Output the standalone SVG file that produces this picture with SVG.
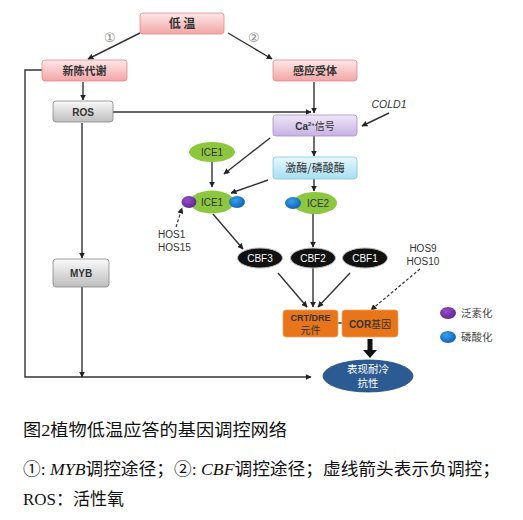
<svg xmlns="http://www.w3.org/2000/svg" width="523" height="520" viewBox="0 0 523 520">
<style>
.ln{fill:none;stroke:#333;stroke-width:1.4}
.ds{fill:none;stroke:#333;stroke-width:1.2;stroke-dasharray:3,2}
.cn{font-family:"Noto Sans CJK SC","Liberation Sans",sans-serif;font-weight:bold;font-size:11px;fill:#333;text-anchor:middle}
.cr{font-family:"Noto Sans CJK SC","Liberation Sans",sans-serif;font-size:10.5px;text-anchor:middle}
.sb{font-family:"Liberation Sans","Noto Sans CJK SC",sans-serif;font-weight:bold;font-size:10px;fill:#333;text-anchor:middle}
.sm{font-family:"Liberation Sans",sans-serif;font-size:10px;fill:#333}
.wt{font-family:"Liberation Sans",sans-serif;font-size:10px;fill:#fff;text-anchor:middle}
.lg{font-family:"Noto Sans CJK SC",sans-serif;font-size:10.5px;fill:#444}
.cap{font-family:"Liberation Serif","Noto Sans CJK SC",serif;font-size:17px;fill:#111}
</style>
<defs>
<linearGradient id="gPink" x1="0" y1="0" x2="0" y2="1"><stop offset="0" stop-color="#fde8e8"/><stop offset="1" stop-color="#f3a5a5"/></linearGradient>
<linearGradient id="gGray" x1="0" y1="0" x2="0" y2="1"><stop offset="0" stop-color="#fafafa"/><stop offset="1" stop-color="#bdbdbd"/></linearGradient>
<linearGradient id="gLav" x1="0" y1="0" x2="0" y2="1"><stop offset="0" stop-color="#efe6f8"/><stop offset="1" stop-color="#c6b2e2"/></linearGradient>
<linearGradient id="gCyan" x1="0" y1="0" x2="0" y2="1"><stop offset="0" stop-color="#e8f8fd"/><stop offset="1" stop-color="#a6dff0"/></linearGradient>
<radialGradient id="gBlue" cx="0.4" cy="0.35" r="0.7"><stop offset="0" stop-color="#3aa0ee"/><stop offset="1" stop-color="#0b5fae"/></radialGradient>
<radialGradient id="gPur" cx="0.4" cy="0.35" r="0.7"><stop offset="0" stop-color="#9350c8"/><stop offset="1" stop-color="#5e2490"/></radialGradient>
<marker id="ah" viewBox="0 0 10 10" refX="9" refY="5" markerWidth="6" markerHeight="6" markerUnits="userSpaceOnUse" orient="auto"><path d="M0,0 L10,5 L0,10 z" fill="#222"/></marker>
</defs>

<g id="connectors">
<path class="ln" d="M140,33 L88,59" marker-end="url(#ah)"/>
<path class="ln" d="M228,33 L272,59" marker-end="url(#ah)"/>
<path class="ln" d="M83,82 L83,100" marker-end="url(#ah)"/>
<path class="ln" d="M42,70 L25,70 L25,377 L311,377" marker-end="url(#ah)"/>
<path class="ln" d="M82,123 L82,258" marker-end="url(#ah)"/>
<path class="ln" d="M82,287 L82,377" marker-end="url(#ah)"/>
<path class="ln" d="M113,112 L311,112" marker-end="url(#ah)"/>
<path class="ln" d="M314,82 L314,113" marker-end="url(#ah)"/>
<path class="ln" d="M389,113 L362,126" marker-end="url(#ah)"/>
<path class="ln" d="M314,136 L314,156" marker-end="url(#ah)"/>
<path class="ln" d="M270,138 L224,174" marker-end="url(#ah)"/>
<path class="ln" d="M268,180 L231,193" marker-end="url(#ah)"/>
<path class="ln" d="M212,162 L212,187" marker-end="url(#ah)"/>
<path class="ln" d="M314,179 L314,191" marker-end="url(#ah)"/>
<path class="ln" d="M313,214 L313,247" marker-end="url(#ah)"/>
<path class="ln" d="M213,214 L243,249" marker-end="url(#ah)"/>
<path class="ln" d="M278,273 L307,307" marker-end="url(#ah)"/>
<path class="ln" d="M313,268 L313,307" marker-end="url(#ah)"/>
<path class="ln" d="M350,273 L318,307" marker-end="url(#ah)"/>
<path class="ds" d="M420,269 L371,310" marker-end="url(#ah)"/>
<path class="ds" d="M176,227 L182,208" marker-end="url(#ah)"/>
<path class="ln" d="M338,323 L342,323"/>
<path d="M367.5,339 L372.5,339 L372.5,350 L377,350 L370,358 L363,350 L367.5,350 z" fill="#111"/>
</g>

<g id="n-diwen"><rect x="140" y="13" width="84" height="21" rx="3" fill="url(#gPink)" stroke="#e08a8a" stroke-width="0.8"/><text class="cn" x="182" y="28" style="font-size:12px">低  温</text></g>
<text class="sm" x="110" y="42" text-anchor="middle" style="fill:#888;font-size:13px">①</text>
<text class="sm" x="254" y="42" text-anchor="middle" style="fill:#888;font-size:13px">②</text>
<g id="n-xinchen"><rect x="42" y="60" width="85" height="21" rx="3" fill="url(#gPink)" stroke="#e08a8a" stroke-width="0.8"/><text class="cn" x="84.5" y="75">新陈代谢</text></g>
<g id="n-ganying"><rect x="273" y="60" width="84" height="21" rx="3" fill="url(#gPink)" stroke="#e08a8a" stroke-width="0.8"/><text class="cn" x="315" y="75">感应受体</text></g>
<g id="n-ros"><rect x="53" y="101" width="60" height="21" rx="3" fill="url(#gGray)" stroke="#888" stroke-width="0.8"/><text class="sb" x="83" y="115.5">ROS</text></g>
<g id="n-myb"><rect x="53" y="259" width="56" height="28" rx="3" fill="url(#gGray)" stroke="#888" stroke-width="0.8"/><text class="sb" x="81" y="276.5">MYB</text></g>
<g id="n-ca"><rect x="273" y="115" width="84" height="21" rx="3" fill="url(#gLav)" stroke="#a890c8" stroke-width="0.8"/><text class="sb" x="315" y="129.5">Ca<tspan style="font-size:6px" dy="-4">2+</tspan><tspan dy="4" style="font-weight:normal">信号</tspan></text></g>
<g id="n-cold1"><text class="sm" x="389" y="108" text-anchor="middle" style="font-style:italic;font-size:10.5px">COLD1</text></g>
<g id="n-kinase"><rect x="273" y="157" width="84" height="22" rx="3" fill="url(#gCyan)" stroke="#80c8e0" stroke-width="0.8"/><text class="cn" x="315" y="172" style="font-weight:normal">激酶/磷酸酶</text></g>
<g id="n-ice1a"><ellipse cx="212" cy="152" rx="23" ry="10" fill="#8dc63f"/><text class="sm" x="212" y="155.5" text-anchor="middle">ICE1</text></g>
<g id="n-ice1b"><ellipse cx="212" cy="202" rx="22" ry="11.5" fill="#8dc63f"/><ellipse cx="189" cy="202" rx="7.5" ry="6" fill="url(#gPur)"/><ellipse cx="237" cy="202" rx="8" ry="6" fill="url(#gBlue)"/><text class="sm" x="212" y="205.5" text-anchor="middle">ICE1</text></g>
<g id="n-ice2"><ellipse cx="315" cy="203" rx="22" ry="11" fill="#8dc63f"/><ellipse cx="293" cy="203" rx="8" ry="6" fill="url(#gBlue)"/><text class="sm" x="318" y="206.5" text-anchor="middle">ICE2</text></g>
<g id="n-hos1"><text class="sm" x="158" y="238">HOS1</text><text class="sm" x="158" y="251">HOS15</text></g>
<g id="n-cbf3"><ellipse cx="260" cy="258" rx="22.5" ry="10" fill="#111" stroke="#bbb" stroke-width="1"/><text class="wt" x="260" y="261.5">CBF3</text></g>
<g id="n-cbf2"><ellipse cx="313" cy="258" rx="22.5" ry="10" fill="#111" stroke="#bbb" stroke-width="1"/><text class="wt" x="313" y="261.5">CBF2</text></g>
<g id="n-cbf1"><ellipse cx="365" cy="258" rx="22.5" ry="10" fill="#111" stroke="#bbb" stroke-width="1"/><text class="wt" x="365" y="261.5">CBF1</text></g>
<g id="n-hos9"><text class="sm" x="423" y="252" text-anchor="middle">HOS9</text><text class="sm" x="423" y="265" text-anchor="middle">HOS10</text></g>
<g id="n-crt"><rect x="283" y="310" width="55" height="27" rx="3" fill="#e8751a" stroke="#f3a560" stroke-width="0.8"/><text class="sb" x="310.5" y="321" style="font-size:9px">CRT/DRE</text><text class="cr" x="310.5" y="334" style="fill:#333;font-size:10px">元件</text></g>
<g id="n-cor"><rect x="342" y="310" width="56" height="27" rx="3" fill="#e8751a" stroke="#f3a560" stroke-width="0.8"/><text class="sb" x="370" y="327.5">COR<tspan style="font-weight:normal">基因</tspan></text></g>
<g id="n-result"><ellipse cx="368" cy="376" rx="45" ry="16" fill="#2b5b92" stroke="#1e4674" stroke-width="0.8"/><text class="cr" x="368" y="373" style="fill:#fff;font-size:10.5px">表现耐冷</text><text class="cr" x="368" y="387" style="fill:#fff;font-size:10.5px">抗性</text></g>
<g id="legend"><ellipse cx="448" cy="313" rx="8" ry="6" fill="url(#gPur)"/><text class="lg" x="461" y="317">泛素化</text><ellipse cx="448" cy="337" rx="8" ry="6" fill="url(#gBlue)"/><text class="lg" x="461" y="341">磷酸化</text></g>

<g id="caption">
<text class="cap" x="23" y="436" textLength="264" lengthAdjust="spacingAndGlyphs">图2植物低温应答的基因调控网络</text>
<text class="cap" x="23" y="475" textLength="477" lengthAdjust="spacingAndGlyphs">①: <tspan style="font-style:italic">MYB</tspan>调控途径；②: <tspan style="font-style:italic">CBF</tspan>调控途径；虚线箭头表示负调控；</text>
<text class="cap" x="23" y="505">ROS：活性氧</text>
</g>
</svg>
